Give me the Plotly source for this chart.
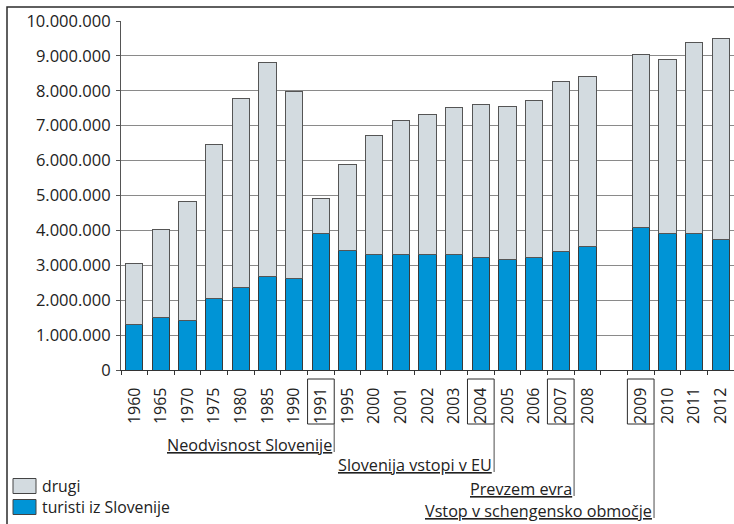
import plotly.graph_objects as go

# categories (blank slot between 2008 and 2009 as in the original)
years = ["1960", "1965", "1970", "1975", "1980", "1985", "1990", "1991", "1995",
         "2000", "2001", "2002", "2003", "2004", "2005", "2006", "2007", "2008",
         " ", "2009", "2010", "2011", "2012"]

# tourists from Slovenia (domestic)
turisti_iz_slovenije = [1300000, 1500000, 1430000, 2050000, 2360000, 2670000, 2610000,
                        3910000, 3430000, 3310000, 3310000, 3300000, 3300000, 3220000,
                        3160000, 3220000, 3400000, 3550000, None, 4070000, 3900000,
                        3900000, 3730000]

# others (foreign)
drugi = [1750000, 2540000, 3410000, 4410000, 5430000, 6130000, 5360000,
         990000, 2470000, 3420000, 3830000, 4020000, 4210000, 4380000,
         4400000, 4510000, 4880000, 4870000, None, 4960000, 5000000,
         5480000, 5780000]

event_years = ["1991", "2004", "2007", "2009"]
event_labels = ["Neodvisnost Slovenije", "Slovenija vstopi v EU", "Prevzem evra",
                "Vstop v schengensko območje"]

W, H = 734, 524
ML, MR, MT, MB = 121, 0, 21, 154
PW, PH = W - ML - MR, H - MT - MB


def px_x(p):
    return (p - ML) / PW


def px_y(p):
    return (H - MB - p) / PH


FONT = "Open Sans, Noto Sans, sans-serif"
BLUE = "#0094d6"
GREY = "#d3dbe0"
LINE = "#3a3a3a"

fig = go.Figure()
fig.add_trace(go.Bar(x=years, y=turisti_iz_slovenije, name="turisti iz Slovenije",
                     marker=dict(color=BLUE, line=dict(color=LINE, width=1))))
fig.add_trace(go.Bar(x=years, y=drugi, name="drugi",
                     marker=dict(color=GREY, line=dict(color="#555555", width=1))))

shapes = []
annotations = []
# outer frame
shapes.append(dict(type="rect", xref="paper", yref="paper",
                   x0=px_x(7), x1=px_x(745), y0=px_y(540), y1=px_y(7),
                   line=dict(color="#2b2b2b", width=1.5), fillcolor="rgba(0,0,0,0)",
                   layer="above"))

# event markers below the axis
underline_px = [452, 472, 496, 518]
for yr, lab, uy in zip(event_years, event_labels, underline_px):
    i = years.index(yr)
    shapes.append(dict(type="rect", xref="x", yref="paper",
                       x0=i - 0.5, x1=i + 0.5, y0=px_y(424), y1=px_y(379),
                       line=dict(color="#2b2b2b", width=1), fillcolor="rgba(0,0,0,0)"))
    shapes.append(dict(type="line", xref="x", yref="paper",
                       x0=i + 0.5, x1=i + 0.5, y0=px_y(424), y1=px_y(uy),
                       line=dict(color="#6a6a6a", width=1.2)))
    annotations.append(dict(xref="x", yref="paper", x=i + 0.5, y=px_y(uy + 5),
                            xanchor="right", yanchor="bottom", xshift=-1, borderpad=0,
                            text="<u>" + lab + "</u>", showarrow=False,
                            font=dict(family=FONT, size=16.2, color="#222222")))

# legend (drawn to match the original's wide swatches)
legend_items = [(fig.data[1].name, GREY, 486), (fig.data[0].name, BLUE, 507)]
for name, col, cy in legend_items:
    shapes.append(dict(type="rect", xref="paper", yref="paper",
                       x0=px_x(13), x1=px_x(36), y0=px_y(cy + 7.5), y1=px_y(cy - 7.5),
                       line=dict(color="#444444", width=1), fillcolor=col))
    annotations.append(dict(xref="paper", yref="paper", x=px_x(41), y=px_y(cy),
                            xanchor="left", yanchor="middle", text=name, showarrow=False,
                            borderpad=0,
                            font=dict(family=FONT, size=15.8, color="#222222")))

fig.update_layout(
    width=W, height=H,
    margin=dict(l=ML, r=MR, t=MT, b=MB),
    paper_bgcolor="white", plot_bgcolor="white",
    barmode="stack", bargap=0.35,
    separators=",.",
    font=dict(family=FONT, size=16, color="#222222"),
    showlegend=False,
    shapes=shapes, annotations=annotations,
)
fig.update_xaxes(type="category", categoryorder="array", categoryarray=years,
                 range=[-0.5, len(years) - 0.5], tickangle=-90,
                 tickson="boundaries", ticks="outside", ticklen=4, tickcolor="#333333",
                 showline=True, linecolor="#333333", linewidth=1.2,
                 showgrid=False, tickfont=dict(size=16, family=FONT, color="#222222"),
                 ticklabelstandoff=10)
fig.update_yaxes(range=[0, 10000000], dtick=1000000, tickformat=",d",
                 ticks="outside", ticklen=4, tickcolor="#555555",
                 showline=True, linecolor="#555555", linewidth=1.2,
                 showgrid=True, gridcolor="#8a8a8a", gridwidth=1.3,
                 zeroline=False, tickfont=dict(size=16.5, family=FONT, color="#222222"),
                 ticklabelstandoff=2)

fig.write_html("out.html", config={"displayModeBar": False},
               post_script="document.body.style.margin='0';document.body.style.padding='0';")
